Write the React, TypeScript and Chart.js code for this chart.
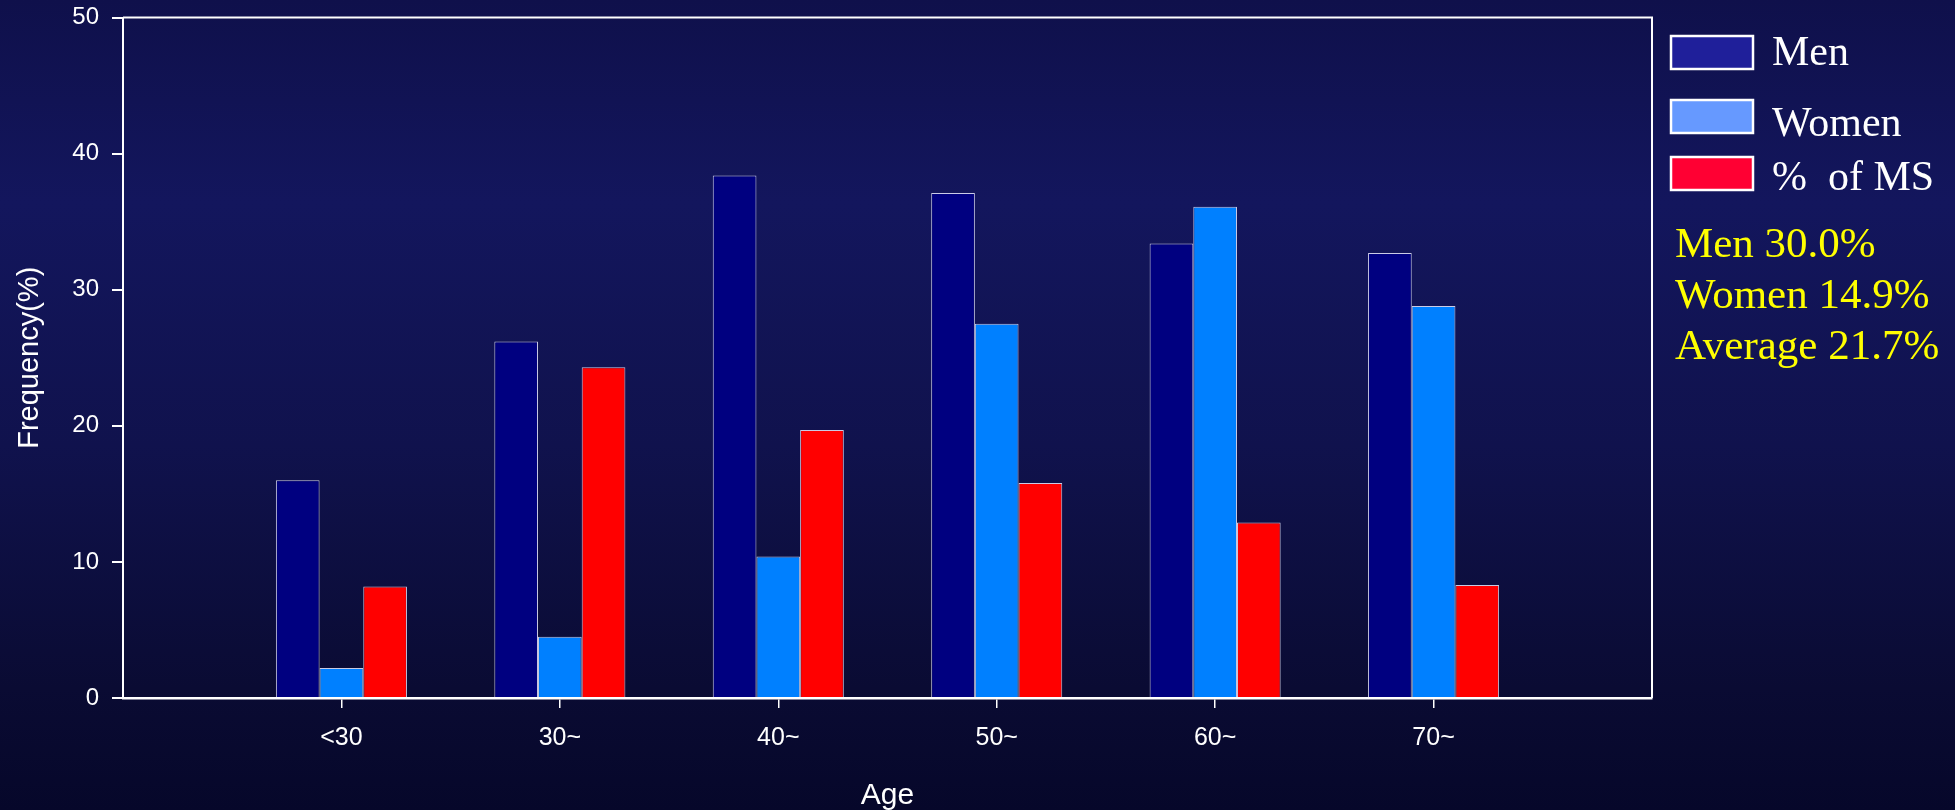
import React, { useEffect, useRef } from "react";
import { Chart, registerables } from "chart.js";

Chart.register(...registerables);

// Age groups shown on the x axis
const AGE_GROUPS = ["<30", "30~", "40~", "50~", "60~", "70~"];

// Frequency (%) per age group
const MEN = [16.0, 26.2, 38.4, 37.1, 33.4, 32.7];
const WOMEN = [2.2, 4.5, 10.4, 27.5, 36.1, 28.8];
const MS_SHARE = [8.2, 24.3, 19.7, 15.8, 12.9, 8.3];

// Y axis range
const Y_MIN = 0;
const Y_MAX = 50;
const Y_STEP = 10;

// Legend entries and overall prevalence summary
const LEGEND_LABELS = ["Men", "Women", "%  of MS"];
const LEGEND_SWATCHES = ["#1f1f9a", "#6699ff", "#ff0033"];
const SUMMARY_LINES = ["Men 30.0%", "Women 14.9%", "Average 21.7%"];

const BAR_COLORS = ["#000080", "#0080ff", "#ff0000"];

const SANS = "'Liberation Sans', Arial, Helvetica, sans-serif";
const SERIF = "'Liberation Serif', 'Times New Roman', Times, serif";

// one empty slot on each side of the age groups
const X_LABELS = ["", ...AGE_GROUPS, " "];
const pad = (vals: number[]) => [null, ...vals, null];

const backgroundPlugin = {
  id: "slideBackground",
  beforeDraw(chart: any) {
    const { ctx, width, height } = chart;
    const g = ctx.createLinearGradient(0, 0, 0, height);
    g.addColorStop(0, "#0f104b");
    g.addColorStop(0.25, "#13165d");
    g.addColorStop(0.55, "#10124d");
    g.addColorStop(0.85, "#0a0b33");
    g.addColorStop(1, "#06072a");
    ctx.save();
    ctx.fillStyle = g;
    ctx.fillRect(0, 0, width, height);
    ctx.restore();
  },
};

const frameAndLegendPlugin = {
  id: "frameAndLegend",
  afterDraw(chart: any) {
    const { ctx, chartArea } = chart;
    ctx.save();
    // top and right edges of the plot frame
    ctx.strokeStyle = "#ffffff";
    ctx.lineWidth = 2;
    ctx.beginPath();
    ctx.moveTo(chartArea.left, chartArea.top);
    ctx.lineTo(chartArea.right, chartArea.top);
    ctx.lineTo(chartArea.right, chartArea.bottom);
    ctx.stroke();

    // legend swatches and labels
    const swX = 1671;
    const swW = 82;
    const swH = 33;
    const swTops = [36, 100, 157];
    const textBaselines = [65, 136, 190];
    ctx.font = `42px ${SERIF}`;
    ctx.textAlign = "left";
    ctx.textBaseline = "alphabetic";
    LEGEND_LABELS.forEach((label, i) => {
      ctx.fillStyle = LEGEND_SWATCHES[i];
      ctx.fillRect(swX, swTops[i], swW, swH);
      ctx.strokeStyle = "#ffffff";
      ctx.lineWidth = 2.5;
      ctx.strokeRect(swX, swTops[i], swW, swH);
      ctx.fillStyle = "#ffffff";
      ctx.fillText(label, 1772, textBaselines[i]);
    });

    // prevalence summary
    ctx.font = `43px ${SERIF}`;
    ctx.fillStyle = "#ffff00";
    const sumBaselines = [257, 308, 359];
    SUMMARY_LINES.forEach((line, i) => {
      ctx.fillText(line, 1675, sumBaselines[i]);
    });
    ctx.restore();
  },
};

export default function App() {
  const canvasRef = useRef<HTMLCanvasElement | null>(null);

  useEffect(() => {
    const canvas = canvasRef.current;
    if (!canvas) return;
    const barStyle = {
      borderColor: "rgba(235,235,255,0.85)",
      borderWidth: 1,
      categoryPercentage: 0.6,
      barPercentage: 1.0,
    };
    const chart = new Chart(canvas, {
      type: "bar",
      data: {
        labels: X_LABELS,
        datasets: [
          { label: "Men", data: pad(MEN), backgroundColor: BAR_COLORS[0], ...barStyle },
          { label: "Women", data: pad(WOMEN), backgroundColor: BAR_COLORS[1], ...barStyle },
          { label: "% of MS", data: pad(MS_SHARE), backgroundColor: BAR_COLORS[2], ...barStyle },
        ],
      },
      options: {
        responsive: false,
        animation: false,
        devicePixelRatio: 1,
        layout: { padding: { left: 0, right: 303, top: 17.5, bottom: 0 } },
        plugins: {
          legend: { display: false },
          tooltip: { enabled: false },
          title: { display: false },
        },
        scales: {
          x: {
            type: "category",
            offset: false,
            afterFit: (scale: any) => {
              scale.height = 112;
              scale.paddingLeft = 0;
              scale.paddingRight = 0;
            },
            grid: {
              offset: false,
              drawOnChartArea: false,
              drawTicks: true,
              tickLength: 10,
              lineWidth: 1.5,
              color: (ctx: any) =>
                ctx.index === 0 || ctx.index === X_LABELS.length - 1
                  ? "rgba(0,0,0,0)"
                  : "#ffffff",
            },
            border: { display: true, color: "#ffffff", width: 2.5 },
            ticks: {
              color: "#ffffff",
              font: { family: SANS, size: 25 },
              padding: 15,
              maxRotation: 0,
              autoSkip: false,
            },
            title: {
              display: true,
              text: "Age",
              color: "#ffffff",
              font: { family: SANS, size: 30 },
              padding: { top: 0, bottom: -4 },
            },
          },
          y: {
            min: Y_MIN,
            max: Y_MAX,
            afterFit: (scale: any) => {
              scale.width = 123;
              scale.paddingTop = 0;
              scale.paddingBottom = 0;
            },
            grid: {
              drawOnChartArea: false,
              drawTicks: true,
              tickLength: 11,
              lineWidth: 2,
              color: "#ffffff",
            },
            border: { display: true, color: "#ffffff", width: 2 },
            ticks: {
              stepSize: Y_STEP,
              color: "#ffffff",
              font: { family: SANS, size: 24 },
              padding: 13,
            },
            title: {
              display: true,
              text: "Frequency(%)",
              color: "#ffffff",
              font: { family: SANS, size: 29 },
              padding: { top: 13, bottom: 0 },
            },
          },
        },
      },
      plugins: [backgroundPlugin, frameAndLegendPlugin],
    } as any);
    return () => chart.destroy();
  }, []);

  return (
    <div
      style={{
        position: "fixed",
        left: 0,
        top: 0,
        width: 1955,
        height: 810,
        overflow: "hidden",
        background: "#0b0c3a",
      }}
    >
      <canvas ref={canvasRef} width={1955} height={810} style={{ display: "block" }} />
    </div>
  );
}
